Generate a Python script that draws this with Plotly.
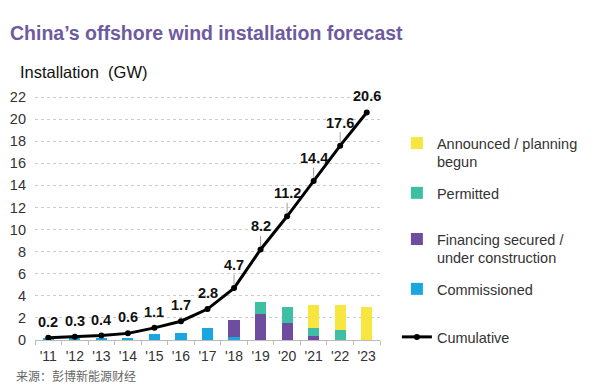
import plotly.graph_objects as go

years = ["'11", "'12", "'13", "'14", "'15", "'16", "'17", "'18", "'19", "'20", "'21", "'22", "'23"]
commissioned = [0.1, 0.1, 0.1, 0.1, 0.5, 0.6, 1.05, 0.25, 0, 0, 0, 0, 0]
financing = [0, 0, 0, 0, 0, 0, 0, 1.6, 2.35, 1.5, 0.4, 0, 0]
permitted = [0, 0, 0, 0, 0, 0, 0, 0, 1.05, 1.45, 0.7, 0.9, 0]
announced = [0, 0, 0, 0, 0, 0, 0, 0, 0, 0, 2.05, 2.3, 2.95]
cumulative = [0.2, 0.3, 0.4, 0.6, 1.1, 1.7, 2.8, 4.7, 8.2, 11.2, 14.4, 17.6, 20.6]
cum_labels = ["0.2", "0.3", "0.4", "0.6", "1.1", "1.7", "2.8", "4.7", "8.2", "11.2", "14.4", "17.6", "20.6"]

FONT = "Liberation Sans, Arial, sans-serif"
TXT = "#333333"

fig = go.Figure()

series = [
    ("Commissioned", commissioned, "#1AA7DF", "legend4", 0.201),
    ("Financing secured /<br>under construction", financing, "#6E4DA0", "legend3", 0.360),
    ("Permitted", permitted, "#3EBFA3", "legend2", 0.579),
    ("Announced / planning<br>begun", announced, "#F6E63F", "legend", 0.738),
]
for name, vals, color, lg, _ in series:
    fig.add_trace(go.Bar(x=years, y=vals, name=name, marker=dict(color=color, line=dict(width=0)),
                         width=0.42, legend=lg, hoverinfo="skip"))

fig.add_trace(go.Scatter(x=years, y=cumulative, name="Cumulative", mode="lines+markers",
                         line=dict(color="black", width=3),
                         marker=dict(color="black", size=6), legend="legend5"))

# data labels
for i, (yr, v, t) in enumerate(zip(years, cumulative, cum_labels)):
    leader = 7 <= i <= 11
    if leader:
        fig.add_annotation(x=yr, y=v, text="<b>%s</b>" % t, showarrow=True, arrowhead=0,
                           arrowwidth=0.8, arrowcolor="#888888", ax=0, ay=-23, standoff=3,
                           font=dict(family=FONT, size=14.5, color="#111111"))
    else:
        fig.add_annotation(x=yr, y=v, text="<b>%s</b>" % t, showarrow=False,
                           yshift=16 if i < 12 else 17,
                           font=dict(family=FONT, size=14.5, color="#111111"))

legend_common = dict(xanchor="left", yanchor="middle", x=1.049, bgcolor="rgba(0,0,0,0)",
                     font=dict(family=FONT, size=14.5, color=TXT), valign="top",
                     itemwidth=30, tracegroupgap=0)
layout_legends = {}
for name, vals, color, lg, ypos in series:
    layout_legends[lg] = dict(legend_common, y=ypos)
layout_legends["legend5"] = dict(legend_common, y=0.012)

fig.update_layout(
    width=600, height=387,
    margin=dict(l=35, r=220, t=86, b=47, autoexpand=False),
    paper_bgcolor="white", plot_bgcolor="white",
    barmode="stack",
    showlegend=True,
    font=dict(family=FONT, color=TXT),
    title=dict(text="<b>China’s offshore wind installation forecast</b>",
               x=10 / 600, xanchor="left", xref="container",
               y=1 - 33 / 387, yanchor="middle", yref="container",
               font=dict(family=FONT, size=19.5, color="#6E5AA0")),
    xaxis=dict(range=[-0.5, 12.5], showline=True, linecolor="#BBBBBB", linewidth=1,
               ticks="outside", tickson="boundaries", ticklen=4, tickcolor="#BBBBBB",
               tickangle=0, automargin=False, ticklabelstandoff=3,
               showgrid=False, tickfont=dict(family=FONT, size=14, color=TXT)),
    yaxis=dict(range=[0, 23], dtick=2, tick0=0, showgrid=True, gridcolor="#CCCCCC",
               griddash="dot", gridwidth=1, zeroline=False, showline=False, automargin=False,
               ticklabelstandoff=8, tickfont=dict(family=FONT, size=14.5, color=TXT)),
    **layout_legends,
)

fig.add_annotation(text="Installation  (GW)", xref="paper", yref="paper",
                   x=(18 - 35) / 345, y=(340 - 72) / 254, xanchor="left", yanchor="middle",
                   showarrow=False, font=dict(family=FONT, size=16.5, color="#111111"))
fig.add_annotation(text="来源：彭博新能源财经", xref="paper", yref="paper",
                   x=(14 - 35) / 345, y=(340 - 375) / 254, xanchor="left", yanchor="middle",
                   showarrow=False, font=dict(family="Noto Sans CJK SC", size=12, color="#666666"))

fig.write_html("out.html", config={"displayModeBar": False},
               post_script="document.body.style.margin='0';document.body.style.overflow='hidden';")
